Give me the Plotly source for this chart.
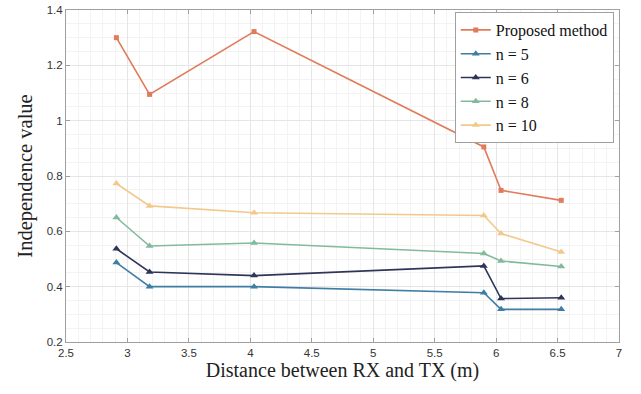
import plotly.graph_objects as go

distance = [2.91, 3.18, 4.03, 5.90, 6.04, 6.53]
proposed = [1.300, 1.095, 1.322, 0.905, 0.748, 0.712]
n5 = [0.487, 0.400, 0.400, 0.378, 0.318, 0.318]
n6 = [0.537, 0.453, 0.440, 0.475, 0.357, 0.360]
n8 = [0.650, 0.547, 0.558, 0.520, 0.493, 0.473]
n10 = [0.773, 0.692, 0.667, 0.657, 0.592, 0.525]

series = [
    ("Proposed method", proposed, "#E07B5B", "square", 5),
    ("n = 5", n5, "#3F7DA4", "triangle-up", 7),
    ("n = 6", n6, "#2F3558", "triangle-up", 7),
    ("n = 8", n8, "#82BA9C", "triangle-up", 7),
    ("n = 10", n10, "#F2C98A", "triangle-up", 7),
]

fig = go.Figure()
for name, vals, color, sym, sz in series:
    fig.add_trace(go.Scatter(
        x=distance, y=vals, name=name, mode="lines+markers",
        line=dict(color=color, width=1.6),
        marker=dict(symbol=sym, size=sz, color=color),
    ))

axis_common = dict(
    showline=True, linecolor="#A0A0A0", linewidth=1, mirror="ticks",
    ticks="inside", ticklen=4, tickcolor="#A0A0A0",
    showgrid=True, gridcolor="#E6E6E6", gridwidth=1,
    zeroline=False,
    tickfont=dict(family="Liberation Sans, Arial", size=11.5, color="#333333"),
)

fig.update_xaxes(
    range=[2.5, 7], dtick=0.5, tick0=2.5,
    minor=dict(dtick=0.1, showgrid=True, gridcolor="#F3F3F3", ticks=""),
    title=dict(text="Distance between RX and TX (m)",
               font=dict(family="Liberation Serif, Times New Roman", size=20, color="#222222"),
               standoff=5),
    **axis_common,
)
fig.update_yaxes(
    range=[0.2, 1.4],
    tickvals=[0.2, 0.4, 0.6, 0.8, 1.0, 1.2, 1.4],
    ticktext=["0.2", "0.4", "0.6", "0.8", "1", "1.2", "1.4"],
    minor=dict(dtick=0.05, showgrid=True, gridcolor="#F3F3F3", ticks=""),
    title=dict(text="Independence value",
               font=dict(family="Liberation Serif, Times New Roman", size=20.5, color="#222222"),
               standoff=8),
    **axis_common,
)

fig.update_layout(
    width=641, height=394,
    margin=dict(l=66, r=22, t=10, b=52, autoexpand=False),
    paper_bgcolor="white", plot_bgcolor="white",
    legend=dict(
        x=0.703, y=0.994, xanchor="left", yanchor="top",
        bgcolor="white", bordercolor="#A0A0A0", borderwidth=1,
        font=dict(family="Liberation Serif, Times New Roman", size=16, color="#111111"),
        itemwidth=30, tracegroupgap=0,
    ),
    showlegend=True,
)

fig.write_html("out.html", config={"displayModeBar": False},
               post_script="document.body.style.margin='0';document.body.style.padding='0';")
